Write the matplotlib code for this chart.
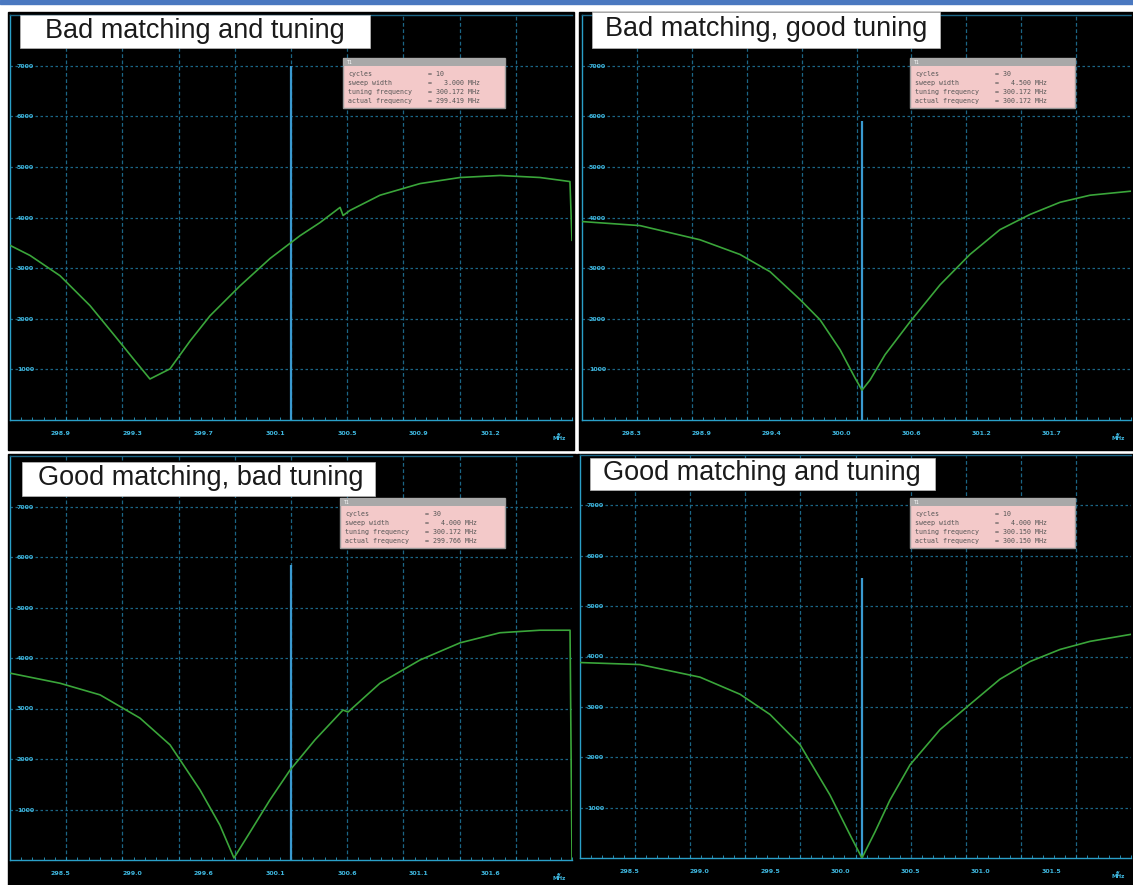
import numpy as np
import matplotlib
matplotlib.use("Agg")
import matplotlib.pyplot as plt
from matplotlib.patches import Rectangle

W, H = 1133, 885

# --- data (frequency in MHz, amplitude) ---
titles = ["Bad matching and tuning", "Bad matching, good tuning",
          "Good matching, bad tuning", "Good matching and tuning"]

sweep_start = [298.672, 297.877, 298.172, 298.103]
sweep_width = [3.0, 4.5, 4.0, 4.0]
tuning_freq = [300.172, 300.172, 300.172, 300.150]
actual_freq = [299.419, 300.172, 299.766, 300.150]
cycles = [10, 30, 30, 10]
marker_height = [7000, 5900, 5850, 5550]

freq_1 = [298.672, 298.779, 298.939, 299.099, 299.232, 299.339, 299.419, 299.526,
          299.633, 299.740, 299.900, 300.060, 300.220, 300.327, 300.434, 300.450,
          300.487, 300.647, 300.861, 301.074, 301.288, 301.501, 301.661, 301.672]
amp_1 = [3450, 3250, 2850, 2260, 1660, 1170, 810, 1010, 1560, 2060, 2650, 3190,
         3640, 3900, 4200, 4040, 4140, 4440, 4670, 4790, 4830, 4790, 4710, 3550]

freq_2 = [297.877, 298.352, 298.844, 299.172, 299.418, 299.664, 299.828, 299.992,
          300.115, 300.172, 300.238, 300.361, 300.566, 300.812, 301.057, 301.303,
          301.549, 301.795, 302.041, 302.377]
amp_2 = [3920, 3840, 3560, 3270, 2930, 2380, 1980, 1390, 830, 590, 790, 1290,
         1940, 2670, 3270, 3760, 4060, 4300, 4440, 4520]

freq_3 = [298.172, 298.528, 298.813, 299.097, 299.311, 299.524, 299.666, 299.766,
          299.880, 300.022, 300.165, 300.343, 300.542, 300.578, 300.805, 301.090,
          301.375, 301.659, 301.944, 302.158, 302.172]
amp_3 = [3700, 3500, 3270, 2810, 2280, 1390, 690, 40, 550, 1190, 1780, 2380,
         2970, 2930, 3500, 3960, 4300, 4500, 4550, 4550, 0]

freq_4 = [298.103, 298.539, 298.974, 299.265, 299.482, 299.700, 299.918, 300.063,
          300.150, 300.245, 300.353, 300.499, 300.717, 300.934, 301.152, 301.370,
          301.588, 301.805, 302.103]
amp_4 = [3880, 3840, 3590, 3250, 2850, 2250, 1250, 460, 0, 520, 1150, 1850,
         2550, 3050, 3550, 3900, 4140, 4300, 4440]

freqs = [freq_1, freq_2, freq_3, freq_4]
amps = [amp_1, amp_2, amp_3, amp_4]
y_ticks = [1000, 2000, 3000, 4000, 5000, 6000, 7000]

# pixel layout: data area, black screen, title box, info box
data_px = [(10, 15, 572, 420), (582, 15, 1131, 420),
           (10, 456, 572, 860), (580, 455, 1131, 858)]
screen_px = [(8, 12, 574, 450), (579, 12, 1133, 450),
             (8, 454, 576, 885), (577, 454, 1133, 885)]
title_px = [(20, 15, 370, 48), (592, 12, 940, 48),
            (22, 462, 375, 496), (590, 458, 935, 490)]
title_text_px = [(45, 31), (605, 29), (38, 478), (603, 473)]
info_px = [(343, 58, 505, 108), (910, 58, 1075, 108),
           (340, 498, 505, 548), (910, 498, 1075, 548)]

CYAN = "#2a9fc8"
GRID = "#1b6585"
GREEN = "#3aa53a"


def frect(x0, y0, x1, y1, **kw):
    return Rectangle((x0 / W, 1 - y1 / H), (x1 - x0) / W, (y1 - y0) / H,
                     transform=fig.transFigure, **kw)


fig = plt.figure(figsize=(W / 100, H / 100), dpi=100)
fig.patch.set_facecolor("white")

# blue border line at the top
fig.add_artist(frect(0, 0, W, 4, color="#4a78c0", zorder=-5))

for i in range(4):
    fig.add_artist(frect(*screen_px[i], color="black", zorder=-5))

    x0, y0, x1, y1 = data_px[i]
    ax = fig.add_axes([x0 / W, 1 - y1 / H, (x1 - x0) / W, (y1 - y0) / H])
    ax.set_facecolor("black")

    f0 = sweep_start[i]
    f1 = f0 + sweep_width[i]
    ax.set_xlim(f0, f1)
    ax.set_ylim(0, 8000)

    # dashed graticule
    for gx in np.linspace(f0, f1, 11)[1:-1]:
        ax.axvline(gx, color=GRID, lw=0.9, ls=(0, (3, 2)), zorder=1)
    for gy in y_ticks:
        ax.axhline(gy, color=GRID, lw=0.9, ls=(0, (2, 2)), zorder=1)

    # marker at the tuning frequency
    ax.vlines(tuning_freq[i], 0, marker_height[i], color="#3a9ad0", lw=1.6, zorder=2)

    ax.plot(freqs[i], amps[i], color=GREEN, lw=1.2, zorder=3)

    # axes styling
    ax.spines["right"].set_visible(False)
    ax.spines["left"].set_color(CYAN)
    ax.spines["bottom"].set_color(CYAN)
    ax.spines["top"].set_color(GRID)
    ax.spines["top"].set_linestyle((0, (1, 1)))
    for s in ax.spines.values():
        s.set_linewidth(1.0)

    lab_pos = f0 + sweep_width[i] * np.linspace(0.09, 0.855, 7)
    ax.set_xticks(lab_pos, [f"{v:.1f}" for v in lab_pos])
    ax.set_xticks(np.linspace(f0, f1, 51), minor=True)
    ax.tick_params(axis="x", which="major", length=0, pad=8, labelsize=4.5,
                   labelcolor="#3fb8e0")
    ax.tick_params(axis="x", which="minor", length=2.5, color=CYAN, direction="in")
    for t in ax.get_xticklabels():
        t.set_fontweight("bold")
    ax.text(0.977, -0.03, "f/\nMHz", transform=ax.transAxes, color="#3fb8e0",
            fontsize=4, fontweight="bold", ha="center", va="top", linespacing=0.8)

    ax.set_yticks(y_ticks, [str(v) for v in y_ticks])
    ax.tick_params(axis="y", length=0, pad=-5, labelsize=4.5, labelcolor="#3fb8e0")
    for t in ax.get_yticklabels():
        t.set_horizontalalignment("left")
        t.set_fontweight("bold")

    # title box
    fig.add_artist(frect(*title_px[i], facecolor="white", edgecolor="#bbbbbb",
                         lw=0.5, zorder=5))
    tx, ty = title_text_px[i]
    fig.text(tx / W, 1 - ty / H, titles[i], fontsize=19.5, family="Liberation Sans",
             color="#1a1a1a", ha="left", va="center", zorder=6)

    # info box
    bx0, by0, bx1, by1 = info_px[i]
    fig.add_artist(frect(bx0, by0, bx1, by1, facecolor="#f3c9c9",
                         edgecolor="#9a9a9a", lw=1, zorder=5))
    fig.add_artist(frect(bx0, by0, bx1, by0 + 8, facecolor="#a8a8a8",
                         edgecolor="none", zorder=6))
    fig.text((bx0 + 4) / W, 1 - (by0 + 4) / H, "T1", fontsize=3.5, color="white",
             family="DejaVu Sans Mono", va="center", zorder=7)
    info_lines = [("cycles", f"= {cycles[i]}"),
                  ("sweep width", f"=   {sweep_width[i]:.3f} MHz"),
                  ("tuning frequency", f"= {tuning_freq[i]:.3f} MHz"),
                  ("actual frequency", f"= {actual_freq[i]:.3f} MHz")]
    for k, (name, val) in enumerate(info_lines):
        yy = 1 - (by0 + 16 + k * 9) / H
        fig.text((bx0 + 5) / W, yy, name, fontsize=4.8, family="DejaVu Sans Mono",
                 color="#555555", va="center", zorder=7)
        fig.text((bx0 + 85) / W, yy, val, fontsize=4.8, family="DejaVu Sans Mono",
                 color="#555555", va="center", zorder=7)

fig.savefig("out.png", dpi=100)
